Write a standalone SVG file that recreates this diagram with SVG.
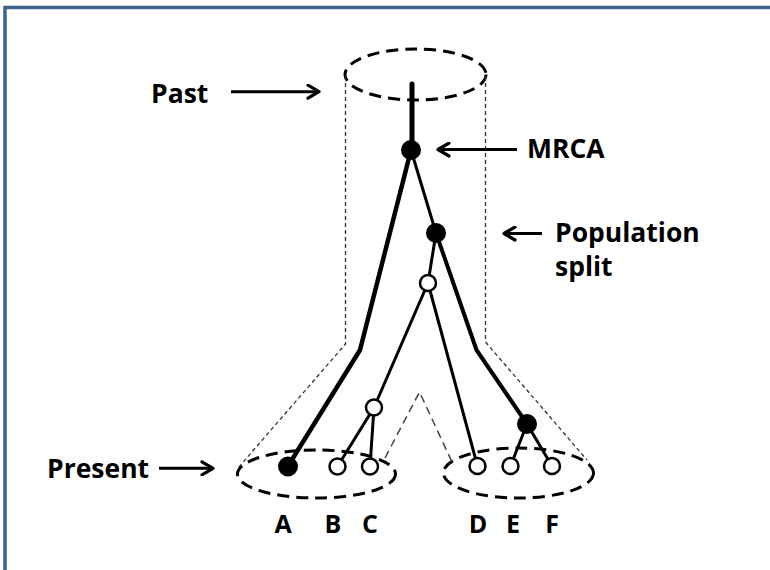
<svg xmlns="http://www.w3.org/2000/svg" width="770" height="570" viewBox="0 0 770 570">
<defs>
<style>
.lbl{font-family:"Open Sans","Noto Sans","Liberation Sans",sans-serif;font-weight:700;fill:#000}
.big{font-size:26.5px}
.let{font-size:25px;text-anchor:middle}
.arr{stroke:#000;stroke-width:3;fill:none;marker-end:url(#ah)}
.pop{fill:none;stroke:#000;stroke-width:3;stroke-dasharray:12 7}
.dot{fill:none;stroke:#333;stroke-width:1.3;stroke-dasharray:4 3}
.dash{fill:none;stroke:#444;stroke-width:1.5;stroke-dasharray:8 5}
.br{fill:none;stroke:#000;stroke-linejoin:round;stroke-linecap:round}
.full{fill:#000;stroke:#000;stroke-width:2}
.open{fill:#fff;stroke:#000;stroke-width:2.5}
</style>
<marker id="ah" viewBox="0 0 16 16" refX="14" refY="8" markerWidth="16" markerHeight="16" markerUnits="userSpaceOnUse" orient="auto">
<path d="M3,1.5 L14,8 L3,14.5" fill="none" stroke="#000" stroke-width="3.2" stroke-linecap="round" stroke-linejoin="round"/>
</marker>
</defs>
<rect width="770" height="570" fill="#fff"/>
<rect x="5" y="7.5" width="800" height="600" fill="none" stroke="#3e628d" stroke-width="3.5"/>

<g id="populations">
<ellipse class="pop" cx="415.5" cy="74.5" rx="70.5" ry="25.5"/>
<ellipse class="pop" cx="316.5" cy="474" rx="79" ry="24"/>
<ellipse class="pop" cx="518.5" cy="473" rx="75" ry="25"/>
<path class="dot" d="M345.5,76 L345.5,344 L238,468"/>
<path class="dot" d="M485.5,76 L485.5,342 L587,460"/>
<path class="dash" d="M385,458 L419.5,392 L452,462"/>
</g>

<g id="connectors">
<path class="br" stroke-width="5" d="M412,84 L412,150"/>
<path class="br" stroke-width="4.5" d="M411,150 L360,350 L288,466"/>
<path class="br" stroke-width="3" d="M411,150 L436,233"/>
<path class="br" stroke-width="4" d="M436,233 L476.5,350 L527,424"/>
<path class="br" stroke-width="3" d="M436,233 L428,283"/>
<path class="br" stroke-width="3" d="M428,283 L374,407.5"/>
<path class="br" stroke-width="3" d="M428,283 L477.5,466"/>
<path class="br" stroke-width="3" d="M374,407.5 L337.5,466.5"/>
<path class="br" stroke-width="3" d="M374,407.5 L370,466.5"/>
<path class="br" stroke-width="3" d="M527,424 L510.5,466"/>
<path class="br" stroke-width="3" d="M527,424 L552,466"/>
</g>

<g id="node-mrca"><circle class="full" cx="411" cy="150" r="9"/></g>
<g id="node-split"><circle class="full" cx="436" cy="233" r="9"/></g>
<g id="node-int1"><circle class="open" cx="428" cy="283" r="8"/></g>
<g id="node-int2"><circle class="open" cx="374" cy="407.5" r="8"/></g>
<g id="node-int3"><circle class="full" cx="527" cy="424" r="9"/></g>
<g id="node-A"><circle class="full" cx="288" cy="466.5" r="9"/></g>
<g id="node-B"><circle class="open" cx="337.5" cy="466.5" r="8"/></g>
<g id="node-C"><circle class="open" cx="370" cy="466.5" r="8"/></g>
<g id="node-D"><circle class="open" cx="477.5" cy="466" r="8"/></g>
<g id="node-E"><circle class="open" cx="510.5" cy="466" r="8"/></g>
<g id="node-F"><circle class="open" cx="552" cy="466" r="8"/></g>

<g id="labels">
<text class="lbl big" x="151" y="103">Past</text>
<line class="arr" x1="231" y1="91.7" x2="319" y2="91.7"/>
<text class="lbl big" x="527" y="158">MRCA</text>
<line class="arr" x1="517" y1="149.5" x2="438" y2="149.5"/>
<text class="lbl big" x="555" y="242">Population</text>
<text class="lbl big" x="555" y="276">split</text>
<line class="arr" x1="542" y1="233.5" x2="504" y2="233.5"/>
<text class="lbl big" x="47" y="478">Present</text>
<line class="arr" x1="159" y1="468.3" x2="213" y2="468.3"/>
<text class="lbl let" x="283" y="533">A</text>
<text class="lbl let" x="333" y="533">B</text>
<text class="lbl let" x="370" y="533">C</text>
<text class="lbl let" x="478" y="533">D</text>
<text class="lbl let" x="513" y="533">E</text>
<text class="lbl let" x="552" y="533">F</text>
</g>
</svg>
